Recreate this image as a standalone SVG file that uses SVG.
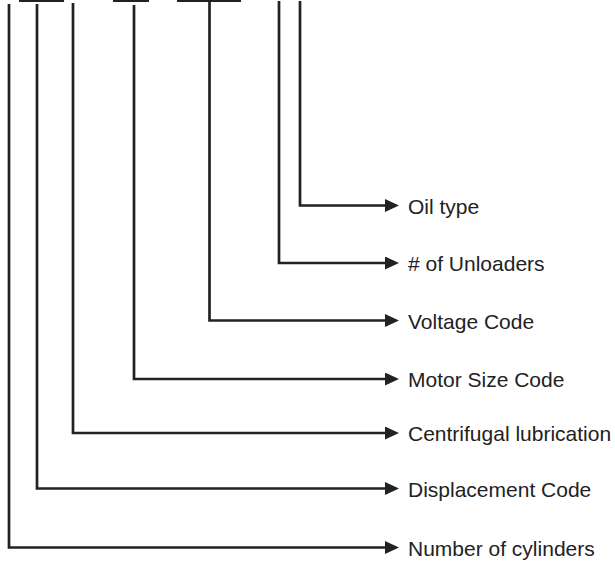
<svg xmlns="http://www.w3.org/2000/svg" width="615" height="562" viewBox="0 0 615 562">
<defs>
<style>
.ln{fill:none;stroke:#222;stroke-width:2.7;stroke-linejoin:miter;stroke-linecap:butt}
.bar{fill:#222}
.lbl{font-family:"Liberation Sans",Arial,sans-serif;font-size:21px;fill:#222}
</style>
<marker id="ah" viewBox="0 0 14 13" refX="0" refY="6.5" markerWidth="14" markerHeight="13" markerUnits="userSpaceOnUse" orient="auto">
<path d="M0,0 L14,6.5 L0,13 Z" fill="#222"/>
</marker>
</defs>
<rect width="615" height="562" fill="#fff"/>
<g id="bars">
<rect class="bar" x="19" y="0" width="45" height="2"/>
<rect class="bar" x="113" y="0" width="36" height="2"/>
<rect class="bar" x="177" y="0" width="64" height="2"/>
</g>
<g id="connectors">
<path class="ln" d="M300,1 V205.5 H385" marker-end="url(#ah)"/>
<path class="ln" d="M279,1 V263 H385" marker-end="url(#ah)"/>
<path class="ln" d="M209.5,0 V320.5 H385" marker-end="url(#ah)"/>
<path class="ln" d="M134,5 V379 H385" marker-end="url(#ah)"/>
<path class="ln" d="M73,3 V433 H385" marker-end="url(#ah)"/>
<path class="ln" d="M37,4 V488.5 H385" marker-end="url(#ah)"/>
<path class="ln" d="M9,4 V547.5 H385" marker-end="url(#ah)"/>
</g>
<g id="oil-type"><text class="lbl" x="408" y="213.5">Oil type</text></g>
<g id="unloaders"><text class="lbl" x="408" y="271"># of Unloaders</text></g>
<g id="voltage-code"><text class="lbl" x="408" y="328.5">Voltage Code</text></g>
<g id="motor-size-code"><text class="lbl" x="408" y="387">Motor Size Code</text></g>
<g id="centrifugal-lubrication"><text class="lbl" x="408" y="441">Centrifugal lubrication</text></g>
<g id="displacement-code"><text class="lbl" x="408" y="496.5">Displacement Code</text></g>
<g id="number-of-cylinders"><text class="lbl" x="408" y="555.5">Number of cylinders</text></g>
</svg>
